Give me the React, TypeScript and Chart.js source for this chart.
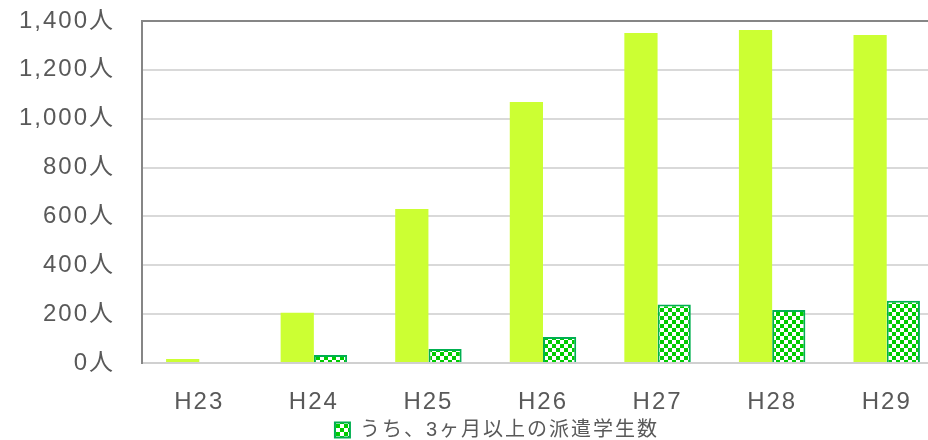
import React, { useEffect, useRef } from "react";
import { Chart, registerables } from "chart.js";

Chart.register(...registerables);

// Fiscal years (Heisei era)
const years = ["H23", "H24", "H25", "H26", "H27", "H28", "H29"];
// Total dispatched students per year
const dispatchedStudents = [16, 206, 630, 1068, 1351, 1363, 1343];
// Of which: students dispatched for 3 months or longer
const longTermStudents = [0, 33, 57, 106, 239, 217, 255];
const longTermLabel = "うち、3ヶ月以上の派遣学生数";
const yTickValues = [0, 200, 400, 600, 800, 1000, 1200, 1400];

const FONT = "'Liberation Sans', Arial, 'Noto Sans CJK JP', sans-serif";
const TEXT = "#595959";

function checkerPattern(ctx: CanvasRenderingContext2D): CanvasPattern | string {
  const cell = 4;
  const tile = document.createElement("canvas");
  tile.width = cell * 2;
  tile.height = cell * 2;
  const g = tile.getContext("2d");
  if (!g) return "#00cc00";
  g.fillStyle = "#ffffff";
  g.fillRect(0, 0, cell * 2, cell * 2);
  g.fillStyle = "#00cc00";
  g.fillRect(0, 0, cell, cell);
  g.fillRect(cell, cell, cell, cell);
  return ctx.createPattern(tile, "repeat") || "#00cc00";
}

// Slightly widened glyph spacing for all chart text
const letterSpacingPlugin = {
  id: "letterSpacing",
  beforeUpdate(chart: any) {
    (chart.ctx as any).letterSpacing = "2px";
  },
  beforeDraw(chart: any) {
    (chart.ctx as any).letterSpacing = "2px";
  },
};

// Nudge the legend box right and down under the plot
const legendOffsetPlugin = {
  id: "legendOffset",
  afterLayout(chart: any) {
    const lg = chart.legend;
    if (!lg) return;
    const dx = 25;
    const dy = 3;
    lg.left += dx;
    lg.right += dx;
    lg.top += dy;
    lg.bottom += dy;
    if (lg.legendHitBoxes) {
      lg.legendHitBoxes.forEach((h: any) => {
        h.left += dx;
        h.top += dy;
      });
    }
  },
};

export default function App() {
  const canvasRef = useRef<HTMLCanvasElement | null>(null);

  useEffect(() => {
    const canvas = canvasRef.current;
    if (!canvas) return;
    const ctx = canvas.getContext("2d");
    if (!ctx) return;
    const pattern = checkerPattern(ctx);

    const chart = new Chart(canvas, {
      type: "bar",
      data: {
        labels: years,
        datasets: [
          {
            label: "派遣学生数",
            data: dispatchedStudents,
            backgroundColor: "#ccff33",
            borderWidth: 0,
            barPercentage: 1,
            categoryPercentage: 0.58,
          },
          {
            label: longTermLabel,
            data: longTermStudents,
            backgroundColor: pattern as any,
            borderColor: "#00b050",
            borderWidth: 2,
            barPercentage: 1,
            categoryPercentage: 0.58,
          },
        ],
      },
      plugins: [letterSpacingPlugin, legendOffsetPlugin],
      options: {
        animation: false,
        responsive: true,
        maintainAspectRatio: false,
        layout: { padding: { left: 0, right: 16, top: 21, bottom: 0 } },
        plugins: {
          tooltip: { enabled: false },
          legend: {
            position: "bottom",
            maxHeight: 25,
            labels: {
              filter: (item: any) => item.datasetIndex === 1,
              boxWidth: 15,
              boxHeight: 15,
              padding: 2,
              color: TEXT,
              font: { family: FONT, size: 20 },
            },
          },
        },
        scales: {
          x: {
            grid: { display: false },
            border: { display: true, color: "#d0d0d0", width: 2 },
            ticks: {
              color: TEXT,
              font: { family: FONT, size: 24 },
              padding: 17,
              maxRotation: 0,
            },
            afterFit: (scale: any) => {
              scale.height = 52;
            },
          },
          y: {
            min: 0,
            max: 1400,
            afterBuildTicks: (scale: any) => {
              scale.ticks = yTickValues.map((v) => ({ value: v }));
            },
            grid: {
              drawTicks: false,
              lineWidth: 2,
              color: (c: any) =>
                c.tick && c.tick.value === 1400
                  ? "#868686"
                  : c.tick && c.tick.value === 0
                  ? "#d0d0d0"
                  : "#d9d9d9",
            },
            border: { display: true, color: "#868686", width: 2 },
            ticks: {
              color: TEXT,
              font: { family: FONT, size: 24 },
              padding: 27,
              callback: (v: any) => Number(v).toLocaleString("en-US") + "人",
            },
            afterFit: (scale: any) => {
              scale.width = 142;
              scale.paddingTop = 0;
              scale.paddingBottom = 0;
            },
          },
        },
      },
    });

    return () => chart.destroy();
  }, []);

  return (
    <div
      style={{
        position: "fixed",
        left: 0,
        top: 0,
        width: 928,
        height: 440,
        overflow: "hidden",
        background: "#ffffff",
      }}
    >
      <div style={{ position: "relative", width: 960, height: 440 }}>
        <canvas ref={canvasRef} />
      </div>
    </div>
  );
}
